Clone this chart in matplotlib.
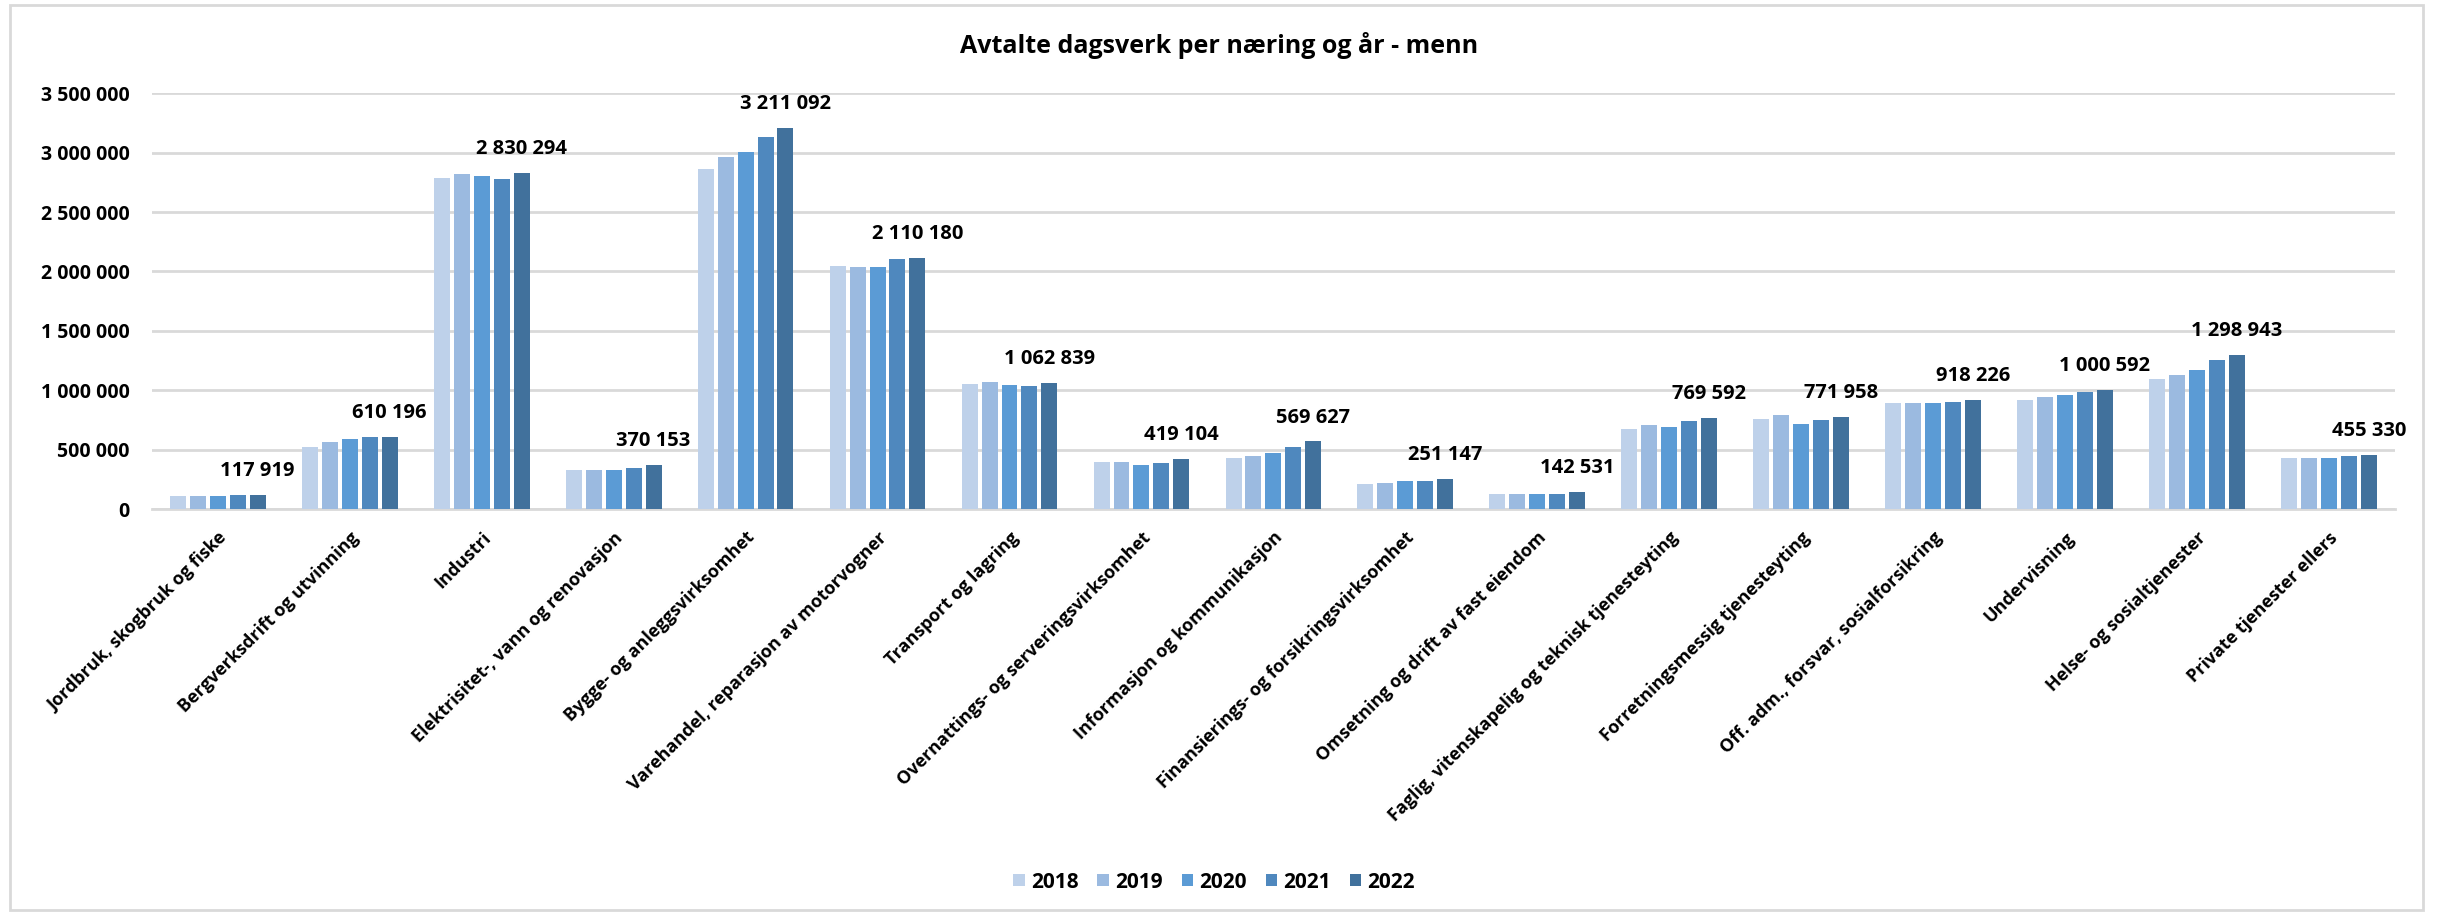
import numpy as np
import matplotlib
matplotlib.use("Agg")
import matplotlib.pyplot as plt
import matplotlib.ticker as mtick
from matplotlib.patches import Rectangle

plt.rcParams['font.family'] = ['Open Sans', 'Liberation Sans', 'DejaVu Sans']
plt.rcParams['font.weight'] = 'bold'

categories = [
    "Jordbruk, skogbruk og fiske",
    "Bergverksdrift og utvinning",
    "Industri",
    "Elektrisitet-, vann og renovasjon",
    "Bygge- og anleggsvirksomhet",
    "Varehandel, reparasjon av motorvogner",
    "Transport og lagring",
    "Overnattings- og serveringsvirksomhet",
    "Informasjon og kommunikasjon",
    "Finansierings- og forsikringsvirksomhet",
    "Omsetning og drift av fast eiendom",
    "Faglig, vitenskapelig og teknisk tjenesteyting",
    "Forretningsmessig tjenesteyting",
    "Off. adm., forsvar, sosialforsikring",
    "Undervisning",
    "Helse- og sosialtjenester",
    "Private tjenester ellers",
]

years = ["2018", "2019", "2020", "2021", "2022"]

v2018 = [112000, 522000, 2785000, 325000, 2863000, 2050000, 1054000, 395000, 429000,
         210000, 129000, 673000, 757000, 892000, 920000, 1096000, 429000]
v2019 = [112000, 564000, 2821000, 325000, 2967000, 2039000, 1066000, 395000, 449000,
         222000, 129000, 704000, 788000, 892000, 942000, 1127000, 429000]
v2020 = [112000, 592000, 2801000, 325000, 3009000, 2039000, 1046000, 367000, 468000,
         233000, 129000, 695000, 715000, 892000, 962000, 1169000, 429000]
v2021 = [121000, 603000, 2782000, 348000, 3132000, 2103000, 1035000, 384000, 519000,
         233000, 129000, 738000, 746000, 900000, 984000, 1259000, 449000]
v2022 = [117919, 610196, 2830294, 370153, 3211092, 2110180, 1062839, 419104, 569627,
         251147, 142531, 769592, 771958, 918226, 1000592, 1298943, 455330]

series = [v2018, v2019, v2020, v2021, v2022]
colors = ["#BED1EA", "#9BBAE0", "#5B9BD5", "#4F88BE", "#41719C"]


def fmt_space(v, pos=None):
    return "{:,}".format(int(round(v))).replace(",", " ")


fig = plt.figure(figsize=(24.38, 9.14), dpi=100)
ax = fig.add_axes([0.0623, 0.443, 0.92, 0.455])

x = np.arange(len(categories))
pitch = 0.151
width = 0.121
for i, (vals, col, yr) in enumerate(zip(series, colors, years)):
    pos = x + (i - 2) * pitch
    ax.bar(pos, vals, width=width, color=col, label=yr, zorder=3)
    if yr == "2022":
        for px, v in zip(pos, vals):
            ax.annotate(fmt_space(v), (px, v), xytext=(0, 10), textcoords="offset points",
                        ha="center", va="bottom", fontsize=14.5, fontweight="bold")

ax.set_xlim(-0.5, len(categories) - 0.5)
ax.set_ylim(0, 3500000)
ax.yaxis.set_major_locator(mtick.MultipleLocator(500000))
ax.yaxis.set_major_formatter(mtick.FuncFormatter(fmt_space))
ax.grid(axis="y", color="#D9D9D9", linewidth=2, zorder=0)
for s in ["top", "right", "left"]:
    ax.spines[s].set_visible(False)
ax.spines["bottom"].set_color("#D9D9D9")
ax.spines["bottom"].set_linewidth(2)
ax.tick_params(axis="y", length=0, labelsize=14, pad=16)
ax.tick_params(axis="x", length=0, pad=14)
ax.set_xticks(x)
ax.set_xticklabels(categories, rotation=45, ha="right", rotation_mode="anchor",
                   fontsize=13, fontweight="bold")
for lab in ax.get_yticklabels():
    lab.set_fontweight("bold")

fig.text(0.5, 0.95, "Avtalte dagsverk per næring og år - menn", ha="center", va="center",
         fontsize=18, fontweight="bold")

fig.legend(loc="center", bbox_to_anchor=(0.498, 0.035), ncol=5, frameon=False,
           fontsize=15, handlelength=0.55, handleheight=0.55, columnspacing=0.9,
           handletextpad=0.3)

fig.patches.append(Rectangle((0.004, 0.004), 0.99, 0.991, transform=fig.transFigure,
                             fill=False, edgecolor="#D9D9D9", linewidth=2))

fig.savefig("out.png", dpi=100)
